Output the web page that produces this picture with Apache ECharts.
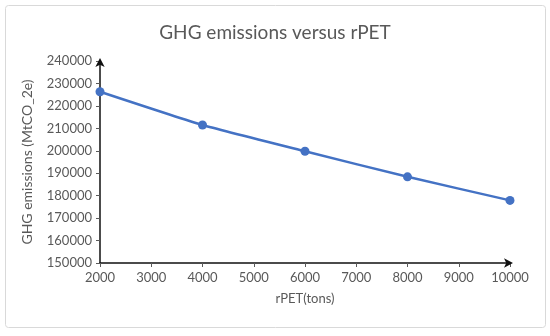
<!DOCTYPE html>
<html><head><meta charset="utf-8">
<script src="https://cdn.jsdelivr.net/npm/echarts@6/dist/echarts.min.js"></script>
<style>html,body{margin:0;padding:0;background:#fff}#c{width:550px;height:336px}</style>
</head><body><div id="c"></div>
<script>
const xValues = [2000, 4000, 6000, 8000, 10000];
const ghgValues = [226300, 211500, 199800, 188400, 177900];
const titleText = 'GHG emissions versus rPET';
const xName = 'rPET(tons)';
const yName = 'GHG emissions (MtCO_2e)';
const FONT = 'Lato';
const chart = echarts.init(document.getElementById('c'));
chart.setOption({
  animation: false,
  textStyle: {fontFamily: FONT},
  graphic: [{type: 'rect', shape: {x: 5.5, y: 5.5, width: 540, height: 322, r: 3}, style: {fill: 'none', stroke: '#d9d9d9', lineWidth: 1}, silent: true}],
  title: {text: titleText, left: 'center', top: 18, textStyle: {fontFamily: FONT, fontSize: 19, fontWeight: 'normal', color: '#595959'}},
  grid: {left: 100, right: 40, top: 61, bottom: 73},
  xAxis: {
    type: 'value', min: 2000, max: 10000, interval: 1000,
    name: xName, nameLocation: 'middle', nameGap: 29,
    nameTextStyle: {fontFamily: FONT, fontSize: 13, color: '#595959'},
    axisLine: {show: true, lineStyle: {color: '#111', width: 1.5}, symbol: ['none', 'arrow'], symbolSize: [7, 9], symbolOffset: [0, 3]},
    axisTick: {show: true, length: 4, lineStyle: {color: '#595959'}},
    axisLabel: {fontFamily: FONT, fontSize: 13, color: '#595959', margin: 8, formatter: v => String(v)},
    splitLine: {show: false}
  },
  yAxis: {
    type: 'value', min: 150000, max: 240000, interval: 10000,
    name: yName, nameLocation: 'middle', nameGap: 66, nameRotate: 90,
    nameTextStyle: {fontFamily: FONT, fontSize: 14, color: '#595959'},
    axisLine: {show: true, lineStyle: {color: '#111', width: 1.5}, symbol: ['none', 'arrow'], symbolSize: [7, 9], symbolOffset: [0, 3]},
    axisTick: {show: true, length: 4, lineStyle: {color: '#595959'}},
    axisLabel: {fontFamily: FONT, fontSize: 13, color: '#595959', margin: 8, formatter: v => String(v)},
    splitLine: {show: false}
  },
  series: [{
    type: 'line', data: xValues.map((x, i) => [x, ghgValues[i]]),
    smooth: 0.15, symbol: 'circle', symbolSize: 9,
    lineStyle: {color: '#4472C4', width: 2.5},
    itemStyle: {color: '#4472C4'}
  }]
});
</script></body></html>
